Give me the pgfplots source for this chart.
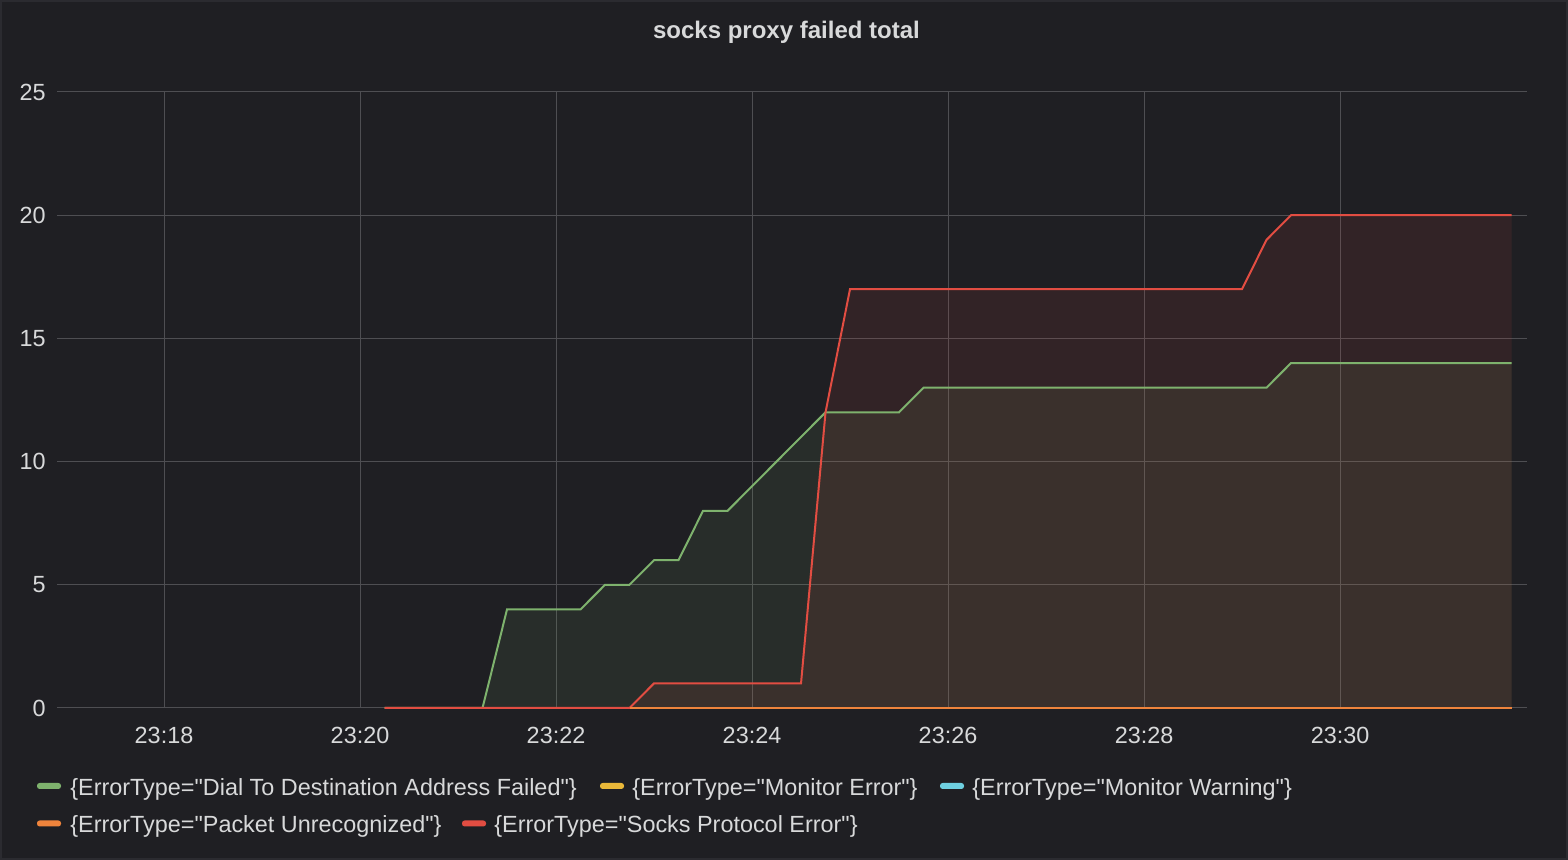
\documentclass[border=0pt]{standalone}
\usepackage{fontspec}
\setmainfont{Liberation Sans}
\usepackage{pgfplots}
\pgfplotsset{compat=1.18}
\definecolor{bg}{HTML}{1F1F23}
\definecolor{frame}{HTML}{2B2B30}
\definecolor{gridc}{HTML}{4E4E52}
\definecolor{txt}{HTML}{D8D9DA}
\definecolor{sgreen}{HTML}{7EB26D}
\definecolor{syellow}{HTML}{EAB839}
\definecolor{sblue}{HTML}{6ED0E0}
\definecolor{sorange}{HTML}{EF843C}
\definecolor{sred}{HTML}{E24D42}
\newcommand\legfont{\fontsize{11.7}{14}\selectfont}
\newcommand\q{\XeTeXglyph\XeTeXcharglyph"22\relax}
% #1 swatch x (px), #2 swatch centre y (px), #3 colour, #4 text x (px), #5 baseline y (px), #6 text
\newcommand\legitem[6]{%
  \fill[#3, rounded corners=1.3pt] ({#1/2},{(860-#2)/2-1.5}) rectangle ({#1/2+12},{(860-#2)/2+1.5});
  \node[anchor=base west, inner sep=0pt, text=txt, font=\legfont] at ({#4/2},{(860-#5)/2}) {#6};
}
\pgfplotstableread{
t v
20.25 0
21.25 0
21.5 4
22.25 4
22.5 5
22.75 5
23 6
23.25 6
23.5 8
23.75 8
24 9
24.25 10
24.5 11
24.75 12
25.5 12
25.75 13
29.25 13
29.5 14
31.75 14
}\dialtable
\pgfplotstableread{
t v
20.25 0
22.75 0
23 1
24.5 1
24.75 12
25 17
29 17
29.25 19
29.5 20
31.75 20
}\sockstable
\pgfplotstableread{
t v
20.25 0
31.75 0
}\zerotable
\begin{document}
\begin{tikzpicture}[x=1pt,y=1pt]
\fill[bg] (0,0) rectangle (784,430);
\draw[frame, line width=1pt] (0.5,0.5) rectangle (783.5,429.5);
\begin{axis}[
  at={(28.5pt,76pt)}, anchor=south west,
  scale only axis, width=735pt, height=308pt,
  xmin=16.908, xmax=31.908, ymin=0, ymax=25,
  axis line style={draw=none},
  major tick length=0pt,
  xtick={18,20,22,24,26,28,30},
  xticklabels={23:18,23:20,23:22,23:24,23:26,23:28,23:30},
  ytick={0,5,10,15,20,25},
  yticklabels={0,5,10,15,20,25},
  grid=major,
  grid style={gridc, line width=0.5pt},
  tick label style={font=\legfont, text=txt},
  xticklabel style={anchor=base, inner sep=0pt, yshift=-18pt},
  yticklabel style={anchor=east, inner sep=0pt, xshift=-5.5pt},
  clip=false,
]
% fills (10% opacity, as in the source panel)
\addplot[draw=none, fill=sgreen, fill opacity=0.1] table[x=t,y=v] {\dialtable} \closedcycle;
\addplot[draw=none, fill=sred, fill opacity=0.1] table[x=t,y=v] {\sockstable} \closedcycle;
% lines
\addplot[sgreen, line width=1pt] table[x=t,y=v] {\dialtable};
\addplot[syellow, line width=1pt] table[x=t,y=v] {\zerotable};
\addplot[sblue, line width=1pt] table[x=t,y=v] {\zerotable};
\addplot[sorange, line width=1pt] table[x=t,y=v] {\zerotable};
\addplot[sred, line width=1pt] table[x=t,y=v] {\sockstable};
\addplot[sorange, line width=1pt] coordinates {(22.75,0) (31.75,0)};
\end{axis}
\node[anchor=base, inner sep=0pt, text=txt, font=\fontsize{12}{14}\selectfont\bfseries] at (393.25,410.5) {socks proxy failed total};
\legitem{37}{786}{sgreen}{70}{796}{\{ErrorType=\q Dial To Destination Address Failed\q\}}
\legitem{600}{786}{syellow}{632}{796}{\{ErrorType=\q Monitor Error\q\}}
\legitem{940}{786}{sblue}{972}{796}{\{ErrorType=\q Monitor Warning\q\}}
\legitem{37}{823.5}{sorange}{70}{833}{\{ErrorType=\q Packet Unrecognized\q\}}
\legitem{462}{823.5}{sred}{494}{833}{\{ErrorType=\q Socks Protocol Error\q\}}
\end{tikzpicture}
\end{document}
